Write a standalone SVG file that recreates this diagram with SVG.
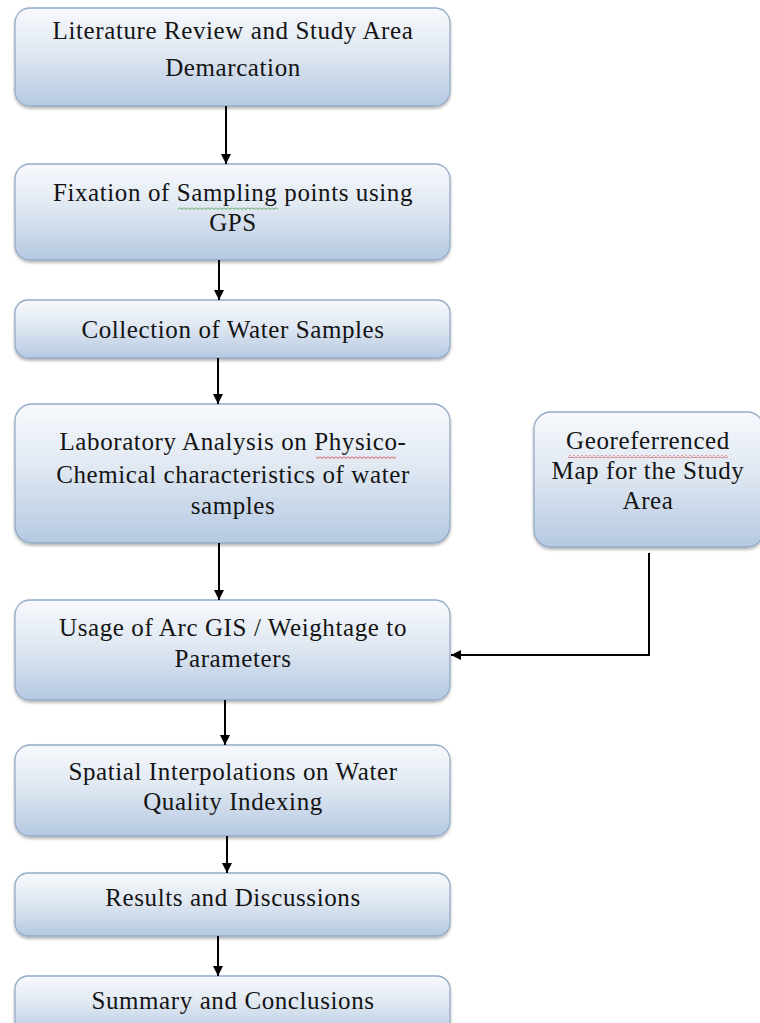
<svg xmlns="http://www.w3.org/2000/svg" width="760" height="1023" viewBox="0 0 760 1023">
<style>
.box{fill:url(#g);stroke:#94abc6;stroke-width:1.3;filter:url(#sh)}
.t{font-family:"Liberation Serif","Times New Roman",serif;font-size:25px;letter-spacing:0.6px;fill:#141414;text-anchor:middle}
.c{fill:none;stroke:#000;stroke-width:2}
</style>
<defs>
<linearGradient id="g" x1="0" y1="0" x2="0" y2="1">
<stop offset="0" stop-color="#f7f9fc"/>
<stop offset="0.45" stop-color="#e0e8f2"/>
<stop offset="1" stop-color="#b5c9e2"/>
</linearGradient>
<filter id="sh" x="-5%" y="-10%" width="110%" height="125%">
<feGaussianBlur in="SourceAlpha" stdDeviation="1.5"/>
<feOffset dx="0" dy="2" result="b"/>
<feComponentTransfer><feFuncA type="linear" slope="0.3"/></feComponentTransfer>
<feMerge><feMergeNode/><feMergeNode in="SourceGraphic"/></feMerge>
</filter>
<pattern id="zr" width="4" height="3" patternUnits="userSpaceOnUse">
<path d="M0,0.5 L2,2.5 L4,0.5" fill="none" stroke="#d23030" stroke-width="0.9"/>
</pattern>
<pattern id="zgr" width="4" height="3" patternUnits="userSpaceOnUse">
<path d="M0,0.5 L2,2.5 L4,0.5" fill="none" stroke="#3a9a3a" stroke-width="0.9"/>
</pattern>
<marker id="ah" viewBox="0 0 10 10" refX="10" refY="5" markerWidth="5" markerHeight="5" orient="auto" markerUnits="strokeWidth">
<path d="M0,0 L10,5 L0,10 z" fill="#000"/>
</marker>
</defs>
<rect width="760" height="1023" fill="#fff"/>

<g id="n1"><rect class="box" x="15" y="8" width="435" height="98" rx="15"/>
<text class="t" x="233" y="39">Literature Review and Study Area</text>
<text class="t" x="233" y="76">Demarcation</text></g>

<g id="n2"><rect class="box" x="15" y="164" width="435" height="96" rx="15"/>
<text class="t" x="233" y="201">Fixation of Sampling points using</text>
<text class="t" x="233" y="231">GPS</text>
<rect x="178" y="207" width="100" height="3" fill="url(#zgr)"/></g>

<g id="n3"><rect class="box" x="15" y="300" width="435" height="58" rx="13"/>
<text class="t" x="233" y="338">Collection of Water Samples</text></g>

<g id="n4"><rect class="box" x="15" y="404" width="435" height="139" rx="17"/>
<text class="t" x="233" y="450">Laboratory Analysis on Physico-</text>
<text class="t" x="233" y="483">Chemical characteristics of water</text>
<text class="t" x="233" y="514">samples</text>
<rect x="316" y="456" width="80" height="3" fill="url(#zr)"/></g>

<g id="n5"><rect class="box" x="15" y="600" width="435" height="100" rx="15"/>
<text class="t" x="233" y="636">Usage of Arc GIS / Weightage to</text>
<text class="t" x="233" y="667">Parameters</text></g>

<g id="n6"><rect class="box" x="15" y="745" width="435" height="91" rx="15"/>
<text class="t" x="233" y="780">Spatial Interpolations on Water</text>
<text class="t" x="233" y="810">Quality Indexing</text></g>

<g id="n7"><rect class="box" x="15" y="873" width="435" height="63" rx="13"/>
<text class="t" x="233" y="906">Results and Discussions</text></g>

<g id="n8"><rect class="box" x="15" y="976" width="435" height="60" rx="13"/>
<text class="t" x="233" y="1009">Summary and Conclusions</text></g>

<g id="n9"><rect class="box" x="534" y="412" width="230" height="135" rx="17"/>
<text class="t" x="648" y="449">Georeferrenced</text>
<text class="t" x="648" y="479">Map for the Study</text>
<text class="t" x="648" y="509">Area</text>
<rect x="568" y="455" width="160" height="3" fill="url(#zr)"/></g>

<g id="connectors">
<line class="c" x1="226" y1="106" x2="226" y2="164" marker-end="url(#ah)"/>
<line class="c" x1="219" y1="260" x2="219" y2="300" marker-end="url(#ah)"/>
<line class="c" x1="218" y1="358" x2="218" y2="404" marker-end="url(#ah)"/>
<line class="c" x1="219" y1="543" x2="219" y2="600" marker-end="url(#ah)"/>
<line class="c" x1="225" y1="700" x2="225" y2="745" marker-end="url(#ah)"/>
<line class="c" x1="227" y1="836" x2="227" y2="873" marker-end="url(#ah)"/>
<line class="c" x1="218" y1="936" x2="218" y2="976" marker-end="url(#ah)"/>
<polyline class="c" points="649,553 649,655 451,655" marker-end="url(#ah)"/>
</g>
</svg>
